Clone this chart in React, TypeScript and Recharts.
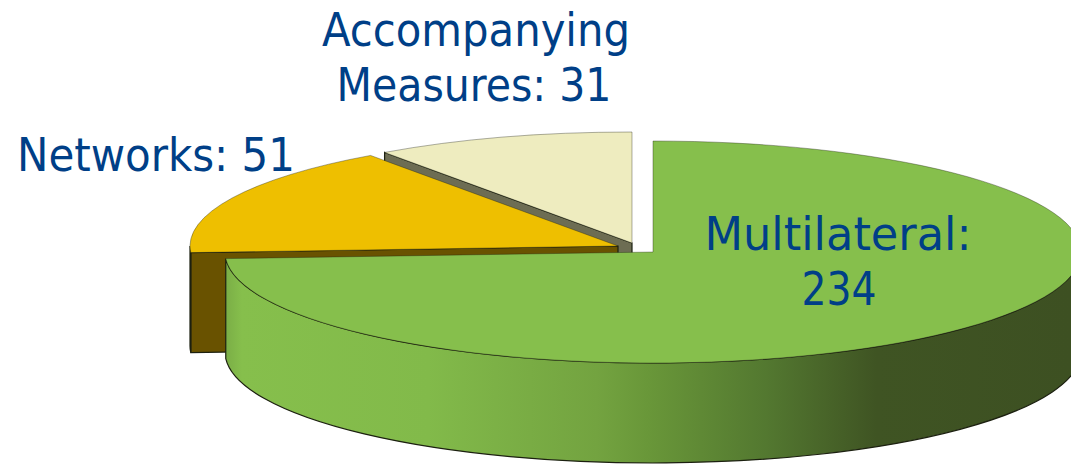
import { PieChart, Pie } from 'recharts';

// counter-clockwise from the top, so the front slice paints last
const categories = ['Accompanying Measures', 'Networks', 'Multilateral'];
const counts = [31, 51, 234];
const labelLines = [
  ['Accompanying', 'Measures: 31'],
  ['Networks: 51'],
  ['Multilateral:', '234'],
];

const topColors = ['#eeecbf', '#eebf00', '#86bf4c'];
const sideColors = ['#6d6d53', '#695200', 'url(#rimGreen)'];
// how far each slice is pulled out of the pie
const explode = [
  { dx: -21, dy: -9 },
  { dx: -35, dy: -6 },
  { dx: 0, dy: 0 },
];
const labelSpots = [
  [{ x: 476, y: 46, width: 308 }, { x: 474, y: 101, width: 275 }],
  [{ x: 156, y: 171, width: 278 }],
  [{ x: 838, y: 250, width: 267 }, { x: 839, y: 305, width: 75 }],
];

const chartData = categories.map((name, i) => ({ name, value: counts[i], fill: topColors[i] }));

const SQUASH = 111 / 428;
const DEPTH = 100;
const RAD = Math.PI / 180;

function Slice3D(props: any) {
  const { cx, cy, outerRadius, startAngle, endAngle, fill, index } = props;
  const i = categories.indexOf(props.name ?? props.payload?.name);
  const idx = i >= 0 ? i : index;
  const ox = cx + explode[idx].dx;
  const oy = cy + explode[idx].dy;
  const rx = outerRadius;
  const ry = outerRadius * SQUASH;
  const pt = (a: number) => [ox + rx * Math.cos(a * RAD), oy - ry * Math.sin(a * RAD)];

  const [sx, sy] = pt(startAngle);
  const [ex, ey] = pt(endAngle);
  const large = endAngle - startAngle > 180 ? 1 : 0;
  const top = `M${ox},${oy} L${sx},${sy} A${rx},${ry} 0 ${large} 0 ${ex},${ey} Z`;

  // only the front half of the rim shows
  const rimFrom = Math.max(startAngle, 180);
  const rimTo = Math.min(endAngle, 360);
  let rim = '';
  if (rimTo > rimFrom) {
    const [ax, ay] = pt(rimFrom);
    const [bx, by] = pt(rimTo);
    rim =
      `M${ax},${ay} A${rx},${ry} 0 0 0 ${bx},${by} L${bx},${by + DEPTH} ` +
      `A${rx},${ry} 0 0 1 ${ax},${ay + DEPTH} Z`;
  }

  const line = '#1c2010';
  return (
    <g>
      {idx !== 2 && (
        <path
          d={`M${ox},${oy} L${ex},${ey} L${ex},${ey + DEPTH} L${ox},${oy + DEPTH} Z`}
          fill={sideColors[idx]}
          stroke={line}
          strokeWidth={1.2}
        />
      )}
      {rim && <path d={rim} fill={sideColors[idx]} stroke={line} strokeWidth={1.2} />}
      <path d={top} fill={fill} stroke={line} strokeOpacity={0.45} strokeWidth={0.8} />
    </g>
  );
}

function SliceLabel(props: any) {
  const i = categories.indexOf(props.name ?? props.payload?.name);
  return (
    <g>
      {labelLines[i].map((t, n) => {
        const spot = labelSpots[i][n];
        return (
          <text
            key={t}
            x={spot.x}
            y={spot.y}
            textAnchor="middle"
            textLength={spot.width}
            lengthAdjust="spacingAndGlyphs"
            fill="#003f87"
            fontSize={46}
            fontFamily="'DejaVu Sans Condensed', 'DejaVu Sans', sans-serif"
          >
            {t}
          </text>
        );
      })}
    </g>
  );
}

export default function App() {
  return (
    <div style={{ position: 'absolute', left: 0, top: 0, width: 1071, height: 464 }}>
      <PieChart width={1071} height={464} margin={{ top: 0, right: 0, bottom: 0, left: 0 }}>
        <defs>
          <linearGradient id="rimGreen" gradientUnits="userSpaceOnUse" x1={225} y1={0} x2={1071} y2={0}>
            <stop offset="0%" stopColor="#7aad46" />
            <stop offset="2%" stopColor="#86bf4c" />
            <stop offset="24%" stopColor="#82ba4a" />
            <stop offset="44%" stopColor="#73a340" />
            <stop offset="50%" stopColor="#699739" />
            <stop offset="64%" stopColor="#537830" />
            <stop offset="77%" stopColor="#3f5423" />
            <stop offset="100%" stopColor="#3d5022" />
          </linearGradient>
        </defs>
        <Pie
          data={chartData}
          dataKey="value"
          nameKey="name"
          cx={653}
          cy={252}
          innerRadius={0}
          outerRadius={428}
          startAngle={90}
          endAngle={450}
          stroke="none"
          shape={Slice3D}
          label={SliceLabel}
          labelLine={false}
          isAnimationActive={false}
        />
      </PieChart>
    </div>
  );
}
